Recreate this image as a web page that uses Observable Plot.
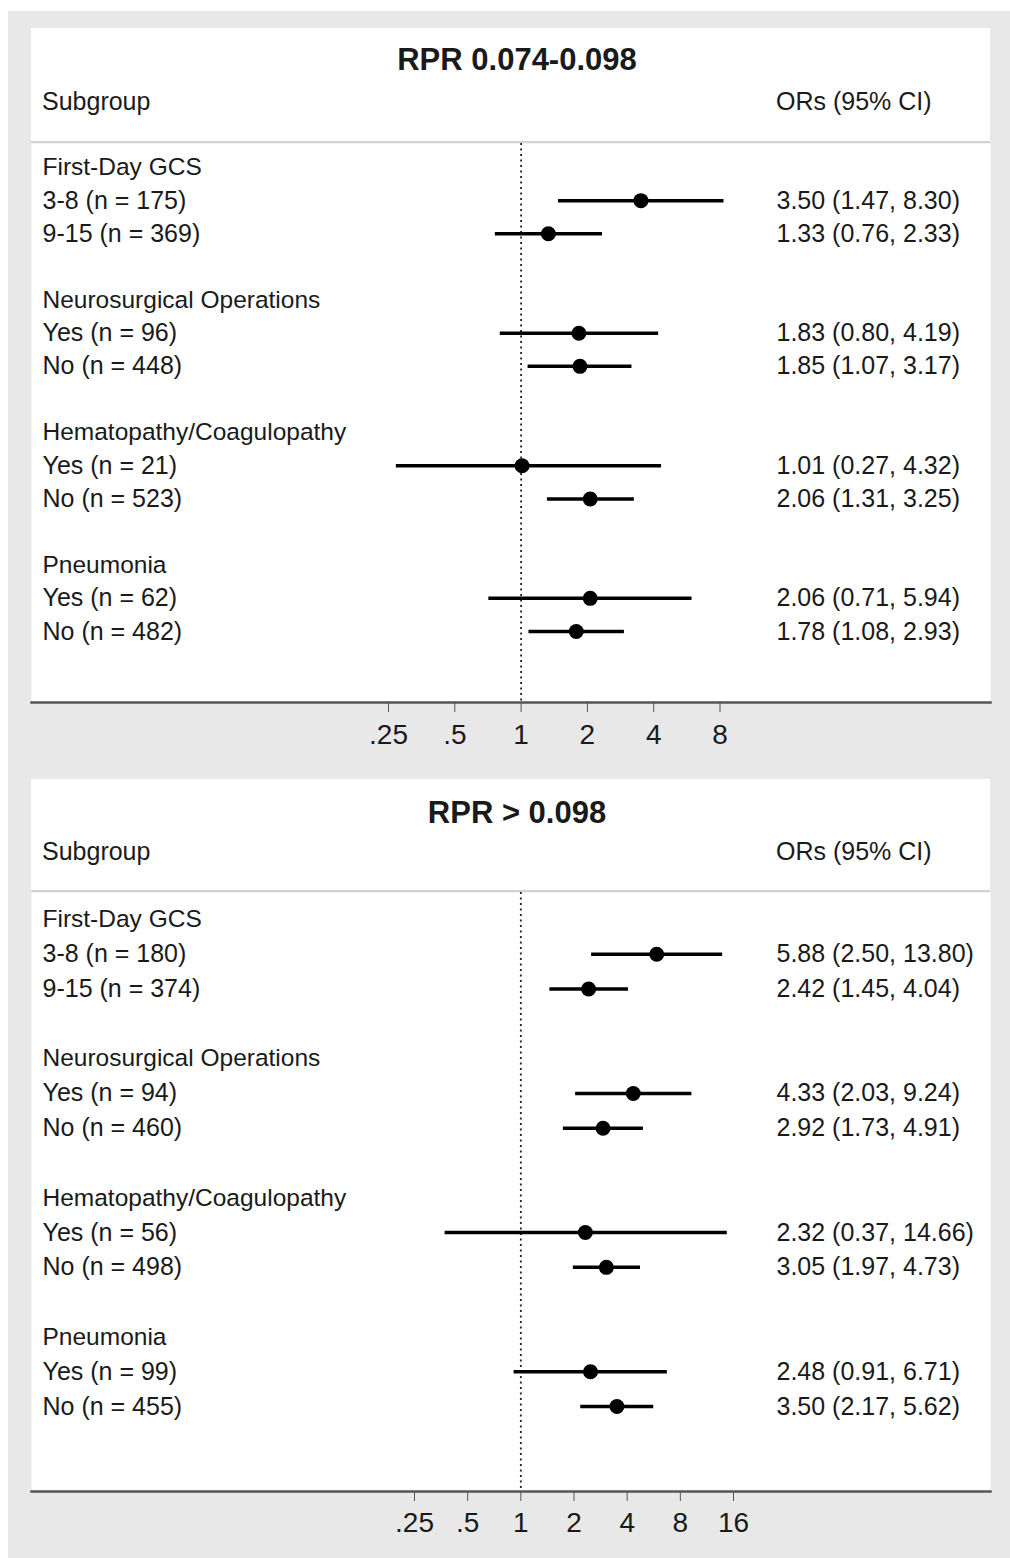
<!DOCTYPE html>
<html>
<head>
<meta charset="utf-8">
<script src="https://cdn.jsdelivr.net/npm/d3@7"></script>
<script src="https://cdn.jsdelivr.net/npm/@observablehq/plot@0.6"></script>
<style>
  html, body { margin: 0; padding: 0; background: #fff; }
  body { width: 1010px; height: 1558px; overflow: hidden; font-family: "Liberation Sans", Arial, sans-serif; color: #1a1a1a; }
  .strip { height: 11px; background: #fff; }
  .bg { margin-left: 8px; background: #e8e8e8; padding: 17px 20px 0 23px; height: 1530px; }
  .head { position: relative; background: #fff; border-bottom: 2px solid #d2d2d2; width: 959px; }
  .title { position: absolute; left: 486px; transform: translate(-50%, -50%); font-weight: bold; font-size: 31px; white-space: nowrap; }
  .lab { position: absolute; transform: translateY(-50%); font-size: 25px; white-space: nowrap; }
  svg { display: block; overflow: visible; }
</style>
</head>
<body>
<div class="strip"></div>
<div class="bg" id="bg"></div>
<script>
const groups = ["First-Day GCS", "Neurosurgical Operations", "Hematopathy/Coagulopathy", "Pneumonia"];
const subgroups = ["3-8", "9-15", "Yes", "No", "Yes", "No", "Yes", "No"];

const title1 = "RPR 0.074-0.098";
const n1  = [175, 369, 96, 448, 21, 523, 62, 482];
const or1 = [3.50, 1.33, 1.83, 1.85, 1.01, 2.06, 2.06, 1.78];
const lo1 = [1.47, 0.76, 0.80, 1.07, 0.27, 1.31, 0.71, 1.08];
const hi1 = [8.30, 2.33, 4.19, 3.17, 4.32, 3.25, 5.94, 2.93];
const ticks1 = [0.25, 0.5, 1, 2, 4, 8];

const title2 = "RPR > 0.098";
const n2  = [180, 374, 94, 460, 56, 498, 99, 455];
const or2 = [5.88, 2.42, 4.33, 2.92, 2.32, 3.05, 2.48, 3.50];
const lo2 = [2.50, 1.45, 2.03, 1.73, 0.37, 1.97, 0.91, 2.17];
const hi2 = [13.80, 4.04, 9.24, 4.91, 14.66, 4.73, 6.71, 5.62];
const ticks2 = [0.25, 0.5, 1, 2, 4, 8, 16];

const fmtTick = d => d < 1 ? String(d).replace(/^0/, "") : String(d);
const f2 = v => v.toFixed(2);

function buildRows(n, or, lo, hi) {
  const heads = groups.map((g, k) => ({i: 4 * k, label: g}));
  const subs = subgroups.map((s, j) => ({
    i: 4 * Math.floor(j / 2) + 1 + (j % 2),
    label: `${s} (n = ${n[j]})`,
    or: or[j], lo: lo[j], hi: hi[j],
    ci: `${f2(or[j])} (${f2(lo[j])}, ${f2(hi[j])})`
  }));
  return {heads, subs};
}

function panel(cfg) {
  const bg = document.getElementById("bg");
  const head = document.createElement("div");
  head.className = "head";
  head.style.height = cfg.headH + "px";
  head.innerHTML = `<div class="title" style="top:${cfg.titleY}px">${cfg.title}</div>
    <div class="lab" style="left:11px;top:${cfg.subY}px">Subgroup</div>
    <div class="lab" style="left:745px;top:${cfg.subY}px">ORs (95% CI)</div>`;
  bg.appendChild(head);

  const {heads, subs} = buildRows(cfg.n, cfg.or, cfg.lo, cfg.hi);
  const tickRows = cfg.ticks.map(t => ({t, label: fmtTick(t)}));
  const chart = Plot.plot({
    width: 959,
    height: cfg.height,
    marginTop: 0, marginLeft: 0, marginRight: 0,
    marginBottom: cfg.marginBottom,
    style: {fontFamily: "Liberation Sans, Arial, sans-serif", fontSize: "25px", background: "transparent", color: "#1a1a1a", overflow: "visible"},
    x: {type: "log", domain: [cfg.ticks[0], cfg.ticks[cfg.ticks.length - 1]], range: cfg.xRange},
    y: {domain: [0, 14], range: cfg.yRange, axis: null},
    marks: [
      Plot.frame({fill: "white", stroke: null}),
      Plot.ruleX([1], {stroke: "#222", strokeWidth: 1.8, strokeDasharray: "2,3.5"}),
      Plot.frame({anchor: "bottom", stroke: "#555", strokeWidth: 2.5}),
      Plot.axisX({ticks: cfg.ticks, tickSize: 10, text: null, stroke: "#555"}),
      Plot.text(tickRows, {x: "t", text: "label", frameAnchor: "bottom", lineAnchor: "middle", dy: cfg.tickDy, fontSize: 28, fill: "#1a1a1a"}),
      Plot.link(subs, {x1: "lo", x2: "hi", y1: "i", y2: "i", stroke: "#000", strokeWidth: 3.5}),
      Plot.dot(subs, {x: "or", y: "i", r: 7.5, fill: "#000", stroke: "none"}),
      Plot.text(heads, {y: "i", text: "label", frameAnchor: "left", dx: 11, textAnchor: "start", fontSize: 24.5, fill: "#1a1a1a"}),
      Plot.text(subs, {y: "i", text: "label", frameAnchor: "left", dx: 11, textAnchor: "start", fontSize: 25, fill: "#1a1a1a"}),
      Plot.text(subs, {y: "i", text: "ci", frameAnchor: "left", dx: 745, textAnchor: "start", fontSize: 25, fill: "#1a1a1a"})
    ]
  });
  bg.appendChild(chart);
}

panel({
  title: title1, headH: 113, titleY: 32, subY: 73,
  n: n1, or: or1, lo: lo1, hi: hi1, ticks: ticks1,
  height: 636, marginBottom: 77, tickDy: 33,
  xRange: [357, 688.5], yRange: [24, 488]
});
panel({
  title: title2, headH: 111, titleY: 34, subY: 72,
  n: n2, or: or2, lo: lo2, hi: hi2, ticks: ticks2,
  height: 666, marginBottom: 67, tickDy: 32,
  xRange: [383, 702], yRange: [27, 514]
});
</script>
</body>
</html>
